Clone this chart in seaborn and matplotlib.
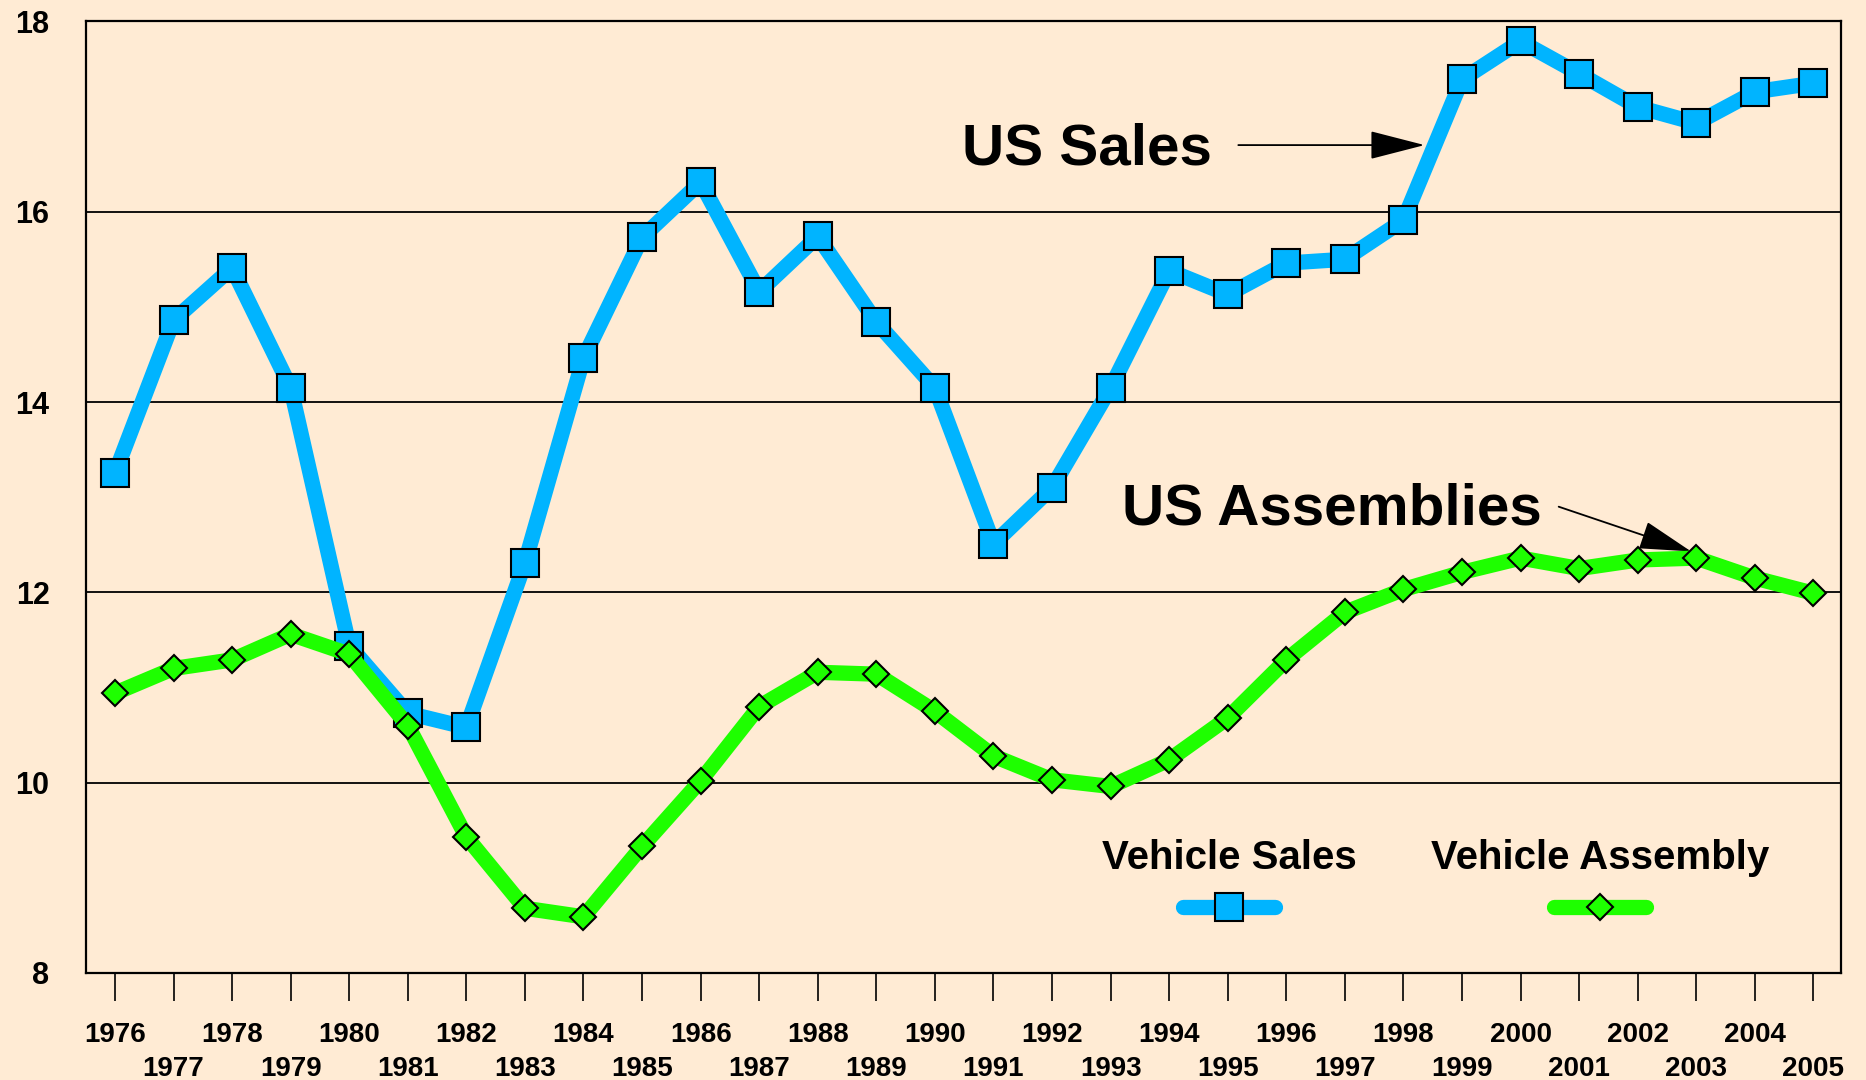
import pandas as pd
import matplotlib
matplotlib.use('Agg')
import matplotlib.pyplot as plt
import seaborn as sns

# Data (millions of vehicles)
years = list(range(1976, 2006))
sales = [13.25, 14.86, 15.41, 14.15, 11.44, 10.73, 10.58, 12.31, 14.46, 15.73,
         16.31, 15.16, 15.74, 14.84, 14.15, 12.51, 13.10, 14.15, 15.38, 15.13,
         15.46, 15.50, 15.91, 17.39, 17.79, 17.45, 17.10, 16.93, 17.26, 17.35]
assembly = [10.94, 11.20, 11.29, 11.56, 11.35, 10.60, 9.43, 8.68, 8.59, 9.33,
            10.02, 10.80, 11.16, 11.14, 10.75, 10.28, 10.03, 9.96, 10.24, 10.68,
            11.29, 11.79, 12.03, 12.21, 12.36, 12.25, 12.34, 12.36, 12.15, 11.99]
y_ticks = [8, 10, 12, 14, 16, 18]
even_years = [y for y in years if y % 2 == 0]
odd_years = [y for y in years if y % 2 == 1]

df = pd.DataFrame({'Year': years, 'Sales': sales, 'Assembly': assembly})

sns.set_style('white')
plt.rcParams['font.family'] = ['Liberation Sans', 'DejaVu Sans']
plt.rcParams['font.weight'] = 'bold'
plt.rcParams['text.color'] = 'black'
plt.rcParams['xtick.color'] = 'black'
plt.rcParams['ytick.color'] = 'black'
plt.rcParams['xtick.labelcolor'] = 'black'
plt.rcParams['ytick.labelcolor'] = 'black'

bg = '#FFEBD4'
blue = '#00B4FF'
green = '#1EFF00'

fig, ax = plt.subplots(figsize=(18.66, 10.8), dpi=100)
fig.patch.set_facecolor(bg)
ax.set_facecolor(bg)
fig.subplots_adjust(left=0.0459, right=0.9866, bottom=0.0991, top=0.9802)

# Sales line with square markers
sns.lineplot(data=df, x='Year', y='Sales', ax=ax, color=blue, linewidth=11,
             marker='s', markersize=20, markerfacecolor=blue,
             markeredgecolor='black', markeredgewidth=1.5,
             solid_capstyle='round', solid_joinstyle='round', zorder=3)
# Assembly line with diamond markers
sns.lineplot(data=df, x='Year', y='Assembly', ax=ax, color=green, linewidth=11,
             marker='D', markersize=13.5, markerfacecolor=green,
             markeredgecolor='black', markeredgewidth=1.5,
             solid_capstyle='round', solid_joinstyle='round', zorder=4)

ax.set_xlabel('')
ax.set_ylabel('')
ax.set_xlim(1975.5, 2005.47)
ax.set_ylim(8, 18)
ax.set_yticks(y_ticks)
# even years on the first row, odd years one row lower
ax.set_xticks(even_years)
ax.set_xticklabels([str(y) for y in even_years])
ax.set_xticks(odd_years, minor=True)
ax.set_xticklabels([str(y) for y in odd_years], minor=True)

ax.yaxis.grid(True, color='black', linewidth=1.3)
ax.xaxis.grid(False, which='both')
ax.set_axisbelow(True)
for s in ax.spines.values():
    s.set_color('black')
    s.set_linewidth(1.6)

ax.tick_params(axis='x', which='major', direction='out', length=20, width=1.2,
               color='black', pad=15, labelsize=20, bottom=True)
ax.tick_params(axis='x', which='minor', direction='out', length=20, width=1.2,
               color='black', pad=39.5, labelsize=20, bottom=True)
ax.tick_params(axis='y', length=0, pad=26, labelsize=22)

# Annotations
ax.text(1992.6, 16.50, 'US Sales', fontsize=42, fontweight='bold',
        ha='center', va='baseline')
ax.annotate('', xy=(1998.36, 16.70), xytext=(1995.18, 16.70),
            arrowprops=dict(arrowstyle='-|>,head_length=3.5,head_width=0.9',
                            mutation_scale=10, lw=1.3, color='black',
                            shrinkA=0, shrinkB=0))
ax.text(1996.77, 12.71, 'US Assemblies', fontsize=42, fontweight='bold',
        ha='center', va='baseline')
ax.annotate('', xy=(2002.91, 12.43), xytext=(2000.65, 12.90),
            arrowprops=dict(arrowstyle='-|>,head_length=3.3,head_width=0.9',
                            mutation_scale=10, lw=1.3, color='black',
                            shrinkA=0, shrinkB=0))

# Legend: title above each handle
h_sales, h_asm = ax.lines[0], ax.lines[1]
leg_kw = dict(loc='upper center', frameon=False, prop={'size': 20},
              handlelength=3.3, handletextpad=0, borderpad=0, borderaxespad=0,
              labelspacing=0.73, numpoints=1,
              title_fontproperties={'weight': 'bold', 'size': 29})
leg1 = ax.legend(handles=[h_sales], labels=[''], title='Vehicle Sales',
                 bbox_to_anchor=(0.6513, 0.1412), **leg_kw)
ax.add_artist(leg1)
leg2 = ax.legend(handles=[h_asm], labels=[''], title='Vehicle Assembly',
                 bbox_to_anchor=(0.8627, 0.1412), **leg_kw)

fig.savefig('out.png', dpi=100, facecolor=bg)
